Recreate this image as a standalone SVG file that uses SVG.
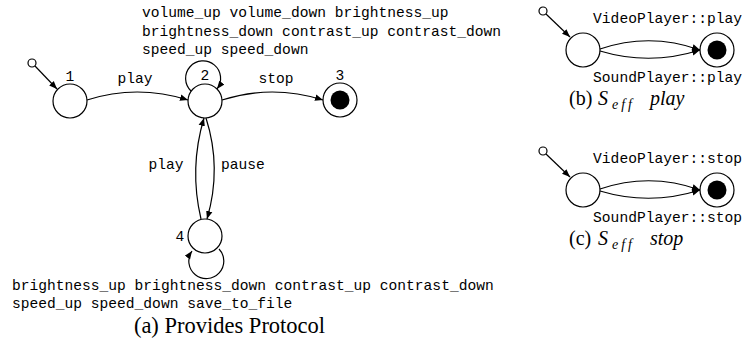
<svg xmlns="http://www.w3.org/2000/svg" width="743" height="342" viewBox="0 0 743 342">
<defs>
<marker id="ah" viewBox="0 0 10 10" refX="10" refY="5" markerWidth="8" markerHeight="8" markerUnits="userSpaceOnUse" orient="auto">
<path d="M0,1 L10,5 L0,9 z" fill="#000"/>
</marker>
</defs>
<style>
.st{fill:#fff;stroke:#000;stroke-width:1.2}
.dot{fill:#fff;stroke:#000;stroke-width:1.2}
.fin{fill:#000}
.e{fill:none;stroke:#000;stroke-width:1.2;marker-end:url(#ah)}
.m{font-family:"Liberation Mono","Courier New",monospace;font-size:14.6px;fill:#000}
.c{font-family:"Liberation Serif","Times New Roman",serif;font-size:22.5px;fill:#000}
.cs{font-family:"Liberation Serif","Times New Roman",serif;font-size:20px;fill:#000}
.ci{font-style:italic}
.sub{font-style:italic;font-size:14px}
</style>
<rect width="743" height="342" fill="#fff"/>

<g id="connectors">
<line class="e" x1="35" y1="66" x2="57" y2="89"/>
<path class="e" d="M87,100 Q137,84 188,100"/>
<path class="e" d="M222,100 Q272,84 323,100"/>
<path class="e" d="M191,91 A17.5,17.5 0 1 1 217,89"/>
<path class="e" d="M201,219 Q189,168 204,118"/>
<path class="e" d="M206,118 Q222,168 207,219"/>
<path class="e" d="M219,249 A17.5,17.5 0 1 1 192,251"/>
<line class="e" x1="546" y1="14" x2="570" y2="37"/>
<path class="e" d="M600,49 Q650,32 700,50"/>
<path class="e" d="M600,51 Q650,66 700,50"/>
<line class="e" x1="546" y1="154" x2="570" y2="177"/>
<path class="e" d="M600,189 Q650,172 700,190"/>
<path class="e" d="M600,191 Q650,206 700,190"/>
</g>

<g id="init1"><circle class="dot" cx="32" cy="63" r="4"/></g>
<g id="s1"><circle class="st" cx="70" cy="101" r="17"/><text class="m" x="70" y="81" text-anchor="middle">1</text></g>
<g id="s2"><circle class="st" cx="205" cy="101" r="17"/><text class="m" x="205" y="80" text-anchor="middle">2</text></g>
<g id="s3"><circle class="st" cx="340" cy="100" r="17"/><circle class="fin" cx="340" cy="100" r="9.5"/><text class="m" x="340" y="80" text-anchor="middle">3</text></g>
<g id="s4"><circle class="st" cx="205" cy="236" r="17"/><text class="m" x="180" y="241" text-anchor="middle">4</text></g>

<g id="labels-a">
<text class="m" x="135" y="83" text-anchor="middle">play</text>
<text class="m" x="276" y="83" text-anchor="middle">stop</text>
<text class="m" x="166" y="169" text-anchor="middle">play</text>
<text class="m" x="243" y="169" text-anchor="middle">pause</text>
<text class="m" x="142" y="17">volume_up volume_down brightness_up</text>
<text class="m" x="142" y="36">brightness_down contrast_up contrast_down</text>
<text class="m" x="142" y="54">speed_up speed_down</text>
<text class="m" x="12" y="290">brightness_up brightness_down contrast_up contrast_down</text>
<text class="m" x="12" y="308">speed_up speed_down save_to_file</text>
<text class="c" x="229.5" y="333" text-anchor="middle">(a) Provides Protocol</text>
</g>

<g id="b-init"><circle class="dot" cx="543" cy="11" r="4"/></g>
<g id="b-s0"><circle class="st" cx="583" cy="50" r="17"/></g>
<g id="b-s1"><circle class="st" cx="717" cy="50" r="17"/><circle class="fin" cx="717" cy="50" r="9.5"/></g>
<g id="labels-b">
<text class="m" x="742" y="23" text-anchor="end">VideoPlayer::play</text>
<text class="m" x="742" y="82" text-anchor="end">SoundPlayer::play</text>
<text class="cs" x="569" y="105">(b)<tspan class="ci" x="598">S</tspan><tspan class="sub" x="612" dy="4" letter-spacing="3">eff</tspan><tspan class="ci" x="650" dy="-4">play</tspan></text>
</g>

<g id="c-init"><circle class="dot" cx="543" cy="151" r="4"/></g>
<g id="c-s0"><circle class="st" cx="583" cy="190" r="17"/></g>
<g id="c-s1"><circle class="st" cx="717" cy="190" r="17"/><circle class="fin" cx="717" cy="190" r="9.5"/></g>
<g id="labels-c">
<text class="m" x="742" y="222" text-anchor="end">SoundPlayer::stop</text>
<text class="m" x="742" y="163" text-anchor="end">VideoPlayer::stop</text>
<text class="cs" x="569" y="245">(c)<tspan class="ci" x="598">S</tspan><tspan class="sub" x="612" dy="4" letter-spacing="3">eff</tspan><tspan class="ci" x="650" dy="-4">stop</tspan></text>
</g>
</svg>
